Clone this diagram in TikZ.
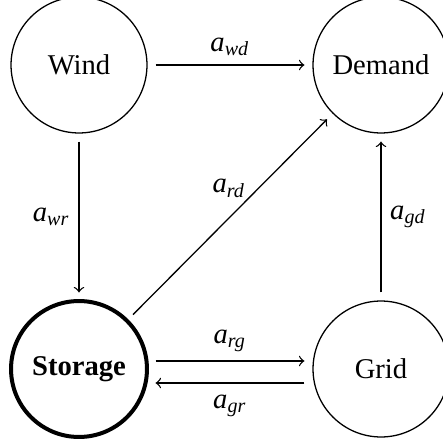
\documentclass[tikz,border=0pt]{standalone}
\usepackage{amsmath}
\usepackage{fontspec}
\setmainfont{Liberation Serif}
\newcommand{\lbl}[2]{\textit{#1}$_{\textit{#2}}$}
\begin{document}
\begin{tikzpicture}[x=0.3494pt,y=-0.3494pt,
  every node/.style={font=\fontsize{10}{12}\selectfont},
  state/.style={circle,draw,line width=0.45pt,minimum size=47.5pt,inner sep=0pt,outer sep=3pt},
  strong/.style={line width=1.4pt},
  link/.style={->,line width=0.45pt},
  tag/.style={inner sep=3pt}]
\fill[white] (0,0) rectangle (442,444);
\useasboundingbox (0,0) rectangle (442,444);
\node[state] (W) at (79,65) {Wind};
\node[state] (D) at (381,65) {Demand};
\node[state,strong] (S) at (79,369) {\textbf{Storage}};
\node[state] (G) at (381,369) {Grid};
\draw[link] (W) -- node[tag,above] {\lbl{a}{wd}} (D);
\draw[link] (W) -- node[tag,left] {\lbl{a}{wr}} (S);
\draw[link] (S) -- node[inner sep=0.5pt,anchor=south east,pos=0.59] {\lbl{a}{rd}} (D);
\draw[link] (G) -- node[tag,right] {\lbl{a}{gd}} (D);
\draw[link] ([yshift=2.8pt]S.east) -- node[tag,above] {\lbl{a}{rg}} ([yshift=2.8pt]G.west);
\draw[link] ([yshift=-4.9pt]G.west) -- node[tag,below,inner sep=4pt] {\lbl{a}{gr}} ([yshift=-4.9pt]S.east);
\end{tikzpicture}
\end{document}
